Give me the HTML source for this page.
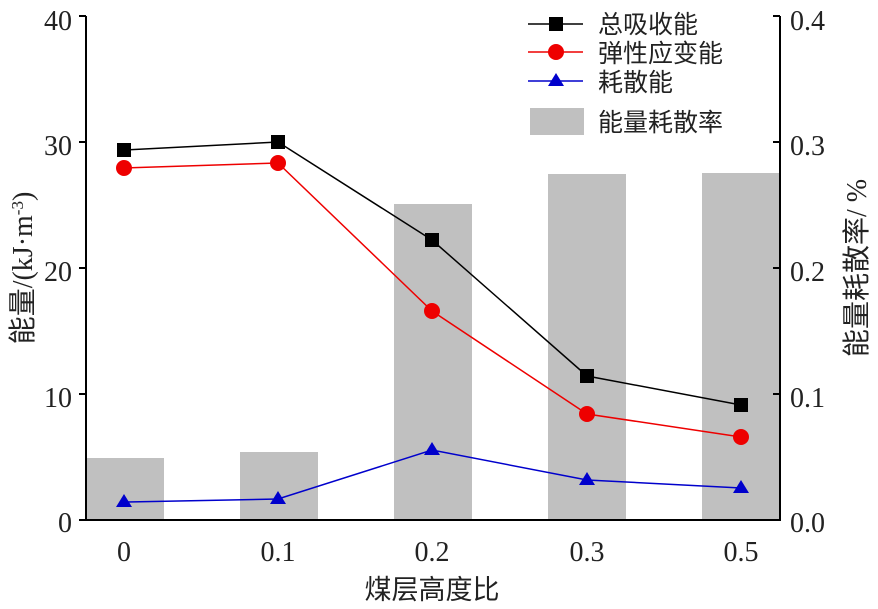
<html><body style="margin:0;background:#fff">
<svg width="878" height="609" xmlns="http://www.w3.org/2000/svg" style="font-family:'Liberation Serif','Noto Serif CJK SC',serif">
<g fill="#c0c0c0">
<rect x="86" y="458" width="78" height="62"/>
<rect x="240" y="452" width="78" height="68"/>
<rect x="394" y="204" width="78" height="316"/>
<rect x="548" y="174" width="78" height="346"/>
<rect x="702" y="173" width="78" height="347"/>
</g>
<g stroke="#000" stroke-width="2" fill="none">
<path d="M86,16V520H780V16"/>
<path d="M79,16H86M79,142H86M79,268H86M79,394H86M79,520H86"/>
<path d="M773,16H780M773,142H780M773,268H780M773,394H780M773,520H780"/>
</g>
<g font-size="28" fill="#222">
<g text-anchor="end"><text x="72" y="30">40</text><text x="72" y="155">30</text><text x="72" y="281">20</text><text x="72" y="407">10</text><text x="72" y="532">0</text></g>
<text x="790" y="30">0.4</text><text x="790" y="155">0.3</text><text x="790" y="281">0.2</text><text x="790" y="407">0.1</text><text x="790" y="532">0.0</text>
<g text-anchor="middle"><text x="124" y="561">0</text><text x="278" y="561">0.1</text><text x="432" y="561">0.2</text><text x="587" y="561">0.3</text><text x="741" y="561">0.5</text></g>
<text x="432" y="599" text-anchor="middle" font-family="'Noto Sans CJK SC',sans-serif" font-size="27">煤层高度比</text>
<text transform="translate(32,268) rotate(-90)" text-anchor="middle" font-size="28"><tspan font-family="'Noto Sans CJK SC',sans-serif">能量</tspan>/(kJ·m<tspan baseline-shift="super" font-size="17">-3</tspan>)</text>
<text transform="translate(866,268) rotate(-90)" text-anchor="middle" font-size="28"><tspan font-family="'Noto Sans CJK SC',sans-serif">能量耗散率</tspan>/ %</text>
</g>
<polyline points="124,150 278,142 432,240 587,376 741,405" stroke="#000" stroke-width="1.5" fill="none"/>
<g fill="#000"><rect x="117" y="143" width="14" height="14"/><rect x="271" y="135" width="14" height="14"/><rect x="425" y="233" width="14" height="14"/><rect x="580" y="369" width="14" height="14"/><rect x="734" y="398" width="14" height="14"/></g>
<polyline points="124,168 278,163 432,311 587,414 741,437" stroke="#e00" stroke-width="1.5" fill="none"/>
<g fill="#e00"><circle cx="124" cy="168" r="8"/><circle cx="278" cy="163" r="8"/><circle cx="432" cy="311" r="8"/><circle cx="587" cy="414" r="8"/><circle cx="741" cy="437" r="8"/></g>
<polyline points="124,502 278,499 432,450 587,480 741,488" stroke="#00c" stroke-width="1.5" fill="none"/>
<g fill="#00c"><path d="M124,494l8,13h-16z"/><path d="M278,491l8,13h-16z"/><path d="M432,442l8,13h-16z"/><path d="M587,472l8,13h-16z"/><path d="M741,480l8,13h-16z"/></g>
<g stroke-width="1.5"><path d="M528,24H583" stroke="#000"/><path d="M528,52H583" stroke="#e00"/><path d="M528,81H583" stroke="#00c"/></g>
<rect x="549" y="17" width="14" height="14" fill="#000"/>
<circle cx="556" cy="52" r="8" fill="#e00"/>
<path d="M556,73l8,13h-16z" fill="#00c"/>
<rect x="530" y="108" width="54" height="27" fill="#c0c0c0"/>
<g font-family="'Noto Sans CJK SC',sans-serif" font-size="25" fill="#222">
<text x="598" y="33">总吸收能</text><text x="598" y="62">弹性应变能</text><text x="598" y="91">耗散能</text><text x="598" y="131">能量耗散率</text>
</g>
</svg>
</body></html>
